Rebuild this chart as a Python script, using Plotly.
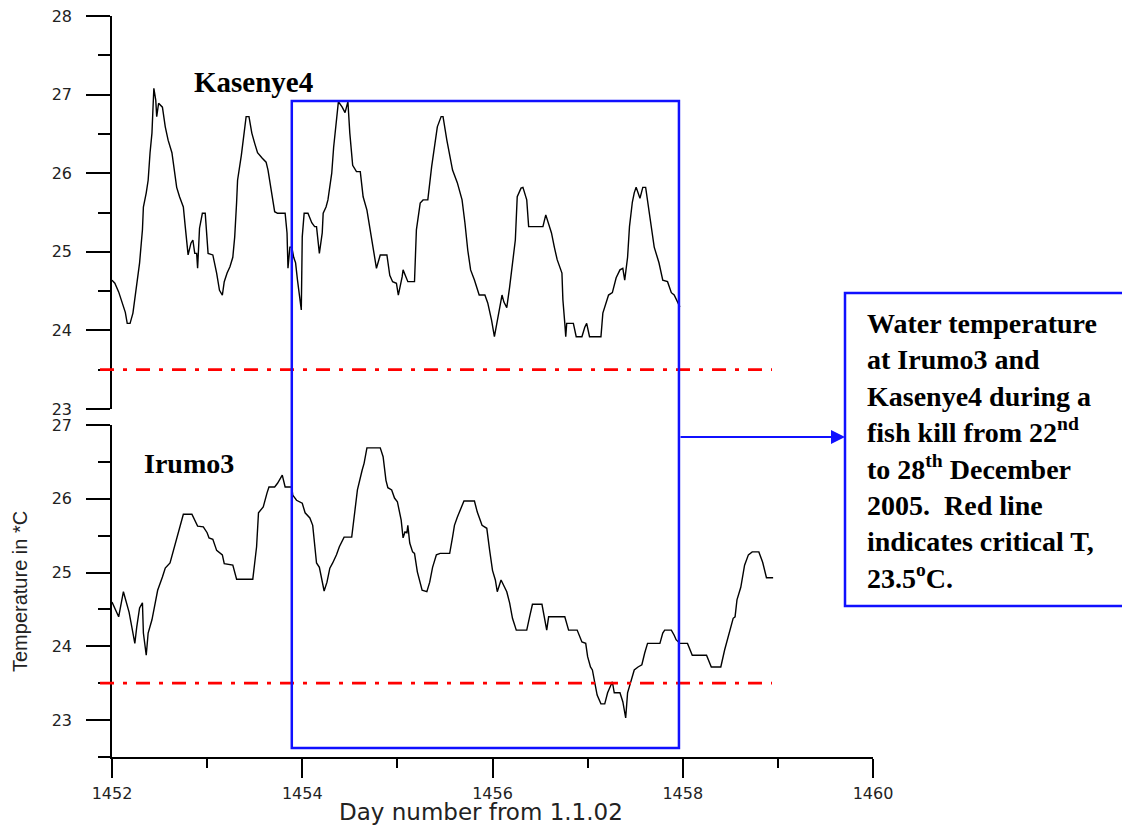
import plotly.graph_objects as go

# ---- data ----
kas_day = [1452.00, 1452.03, 1452.07, 1452.14, 1452.16, 1452.19, 1452.22, 1452.26, 1452.29, 1452.32,
           1452.33, 1452.36, 1452.38, 1452.40, 1452.42, 1452.43, 1452.44, 1452.46, 1452.47, 1452.49,
           1452.53, 1452.56, 1452.59, 1452.63, 1452.65, 1452.68, 1452.71, 1452.75, 1452.77, 1452.79,
           1452.80, 1452.83, 1452.85, 1452.87, 1452.89, 1452.90, 1452.92, 1452.95, 1452.98, 1453.01,
           1453.06, 1453.10, 1453.13, 1453.16, 1453.18, 1453.21, 1453.24, 1453.27, 1453.29, 1453.31,
           1453.32, 1453.36, 1453.38, 1453.41, 1453.44, 1453.47, 1453.50, 1453.53, 1453.58, 1453.62,
           1453.64, 1453.67, 1453.69, 1453.71, 1453.74, 1453.82, 1453.84, 1453.85, 1453.87, 1453.89,
           1453.91, 1453.93, 1453.95, 1453.97, 1453.99, 1454.00, 1454.02, 1454.06, 1454.10, 1454.13,
           1454.15, 1454.18, 1454.21, 1454.22, 1454.25, 1454.27, 1454.29, 1454.31, 1454.33, 1454.36,
           1454.38, 1454.42, 1454.45, 1454.48, 1454.50, 1454.53, 1454.57, 1454.61, 1454.64, 1454.68,
           1454.71, 1454.74, 1454.78, 1454.82, 1454.89, 1454.92, 1454.95, 1454.99, 1455.01, 1455.05,
           1455.06, 1455.11, 1455.18, 1455.20, 1455.24, 1455.27, 1455.32, 1455.36, 1455.39, 1455.42,
           1455.46, 1455.48, 1455.52, 1455.55, 1455.58, 1455.63, 1455.68, 1455.71, 1455.74, 1455.77,
           1455.81, 1455.86, 1455.92, 1455.95, 1455.99, 1456.02, 1456.05, 1456.10, 1456.12, 1456.15,
           1456.18, 1456.21, 1456.24, 1456.26, 1456.30, 1456.32, 1456.36, 1456.38, 1456.42, 1456.53,
           1456.56, 1456.58, 1456.62, 1456.65, 1456.68, 1456.73, 1456.74, 1456.76, 1456.77, 1456.78,
           1456.81, 1456.85, 1456.88, 1456.94, 1456.97, 1456.99, 1457.02, 1457.14, 1457.16, 1457.19,
           1457.22, 1457.26, 1457.30, 1457.34, 1457.37, 1457.39, 1457.42, 1457.44, 1457.47, 1457.49,
           1457.51, 1457.55, 1457.58, 1457.61, 1457.63, 1457.67, 1457.70, 1457.75, 1457.79, 1457.84,
           1457.88, 1457.91, 1457.95, 1457.97]
kas_temp = [24.64, 24.60, 24.49, 24.23, 24.09, 24.09, 24.22, 24.55, 24.86, 25.28,
            25.57, 25.75, 25.91, 26.26, 26.51, 26.80, 27.08, 26.93, 26.72, 26.89,
            26.84, 26.59, 26.42, 26.26, 26.08, 25.82, 25.70, 25.57, 25.32, 25.11,
            24.96, 25.11, 25.15, 24.98, 24.98, 24.79, 25.30, 25.49, 25.49, 24.98,
            24.96, 24.73, 24.51, 24.45, 24.62, 24.73, 24.81, 24.93, 25.19, 25.63,
            25.91, 26.23, 26.42, 26.72, 26.72, 26.51, 26.38, 26.26, 26.19, 26.14,
            26.04, 25.82, 25.66, 25.51, 25.49, 25.49, 25.24, 24.79, 25.06, 25.06,
            24.93, 24.86, 24.64, 24.48, 24.26, 25.19, 25.49, 25.49, 25.37, 25.32,
            25.32, 24.98, 25.24, 25.49, 25.57, 25.66, 25.81, 26.00, 26.33, 26.68,
            26.91, 26.84, 26.77, 26.91, 26.51, 26.10, 26.02, 26.02, 25.70, 25.53,
            25.32, 25.09, 24.79, 24.96, 24.96, 24.70, 24.62, 24.60, 24.45, 24.68,
            24.77, 24.62, 24.62, 25.28, 25.62, 25.66, 25.66, 26.08, 26.33, 26.59,
            26.72, 26.72, 26.42, 26.21, 26.04, 25.88, 25.66, 25.37, 25.02, 24.77,
            24.64, 24.45, 24.45, 24.35, 24.13, 23.92, 24.13, 24.45, 24.36, 24.29,
            24.55, 24.86, 25.15, 25.70, 25.81, 25.82, 25.66, 25.32, 25.32, 25.32,
            25.47, 25.40, 25.24, 25.06, 24.90, 24.73, 24.39, 24.09, 23.92, 24.09,
            24.09, 24.09, 23.92, 23.92, 24.04, 24.09, 23.92, 23.92, 24.22, 24.35,
            24.45, 24.48, 24.67, 24.77, 24.79, 24.64, 24.93, 25.32, 25.63, 25.75,
            25.82, 25.68, 25.82, 25.82, 25.66, 25.32, 25.06, 24.86, 24.64, 24.62,
            24.48, 24.45, 24.36, 24.30]

iru_day = [1452.00, 1452.03, 1452.07, 1452.12, 1452.14, 1452.18, 1452.21, 1452.24, 1452.26, 1452.29,
           1452.32, 1452.33, 1452.36, 1452.38, 1452.42, 1452.45, 1452.48, 1452.53, 1452.56, 1452.61,
           1452.64, 1452.68, 1452.71, 1452.75, 1452.84, 1452.87, 1452.90, 1452.96, 1453.00, 1453.02,
           1453.06, 1453.10, 1453.16, 1453.18, 1453.27, 1453.31, 1453.40, 1453.48, 1453.50, 1453.52,
           1453.54, 1453.59, 1453.63, 1453.65, 1453.71, 1453.74, 1453.79, 1453.82, 1453.89, 1453.90,
           1453.94, 1454.00, 1454.03, 1454.08, 1454.11, 1454.13, 1454.15, 1454.18, 1454.23, 1454.26,
           1454.29, 1454.32, 1454.36, 1454.39, 1454.44, 1454.52, 1454.55, 1454.58, 1454.63, 1454.65,
           1454.68, 1454.82, 1454.85, 1454.88, 1454.90, 1454.94, 1454.97, 1455.00, 1455.04, 1455.06,
           1455.08, 1455.10, 1455.11, 1455.13, 1455.16, 1455.18, 1455.21, 1455.26, 1455.31, 1455.34,
           1455.37, 1455.41, 1455.45, 1455.55, 1455.58, 1455.60, 1455.63, 1455.68, 1455.70, 1455.81,
           1455.84, 1455.89, 1455.94, 1455.97, 1456.00, 1456.03, 1456.05, 1456.09, 1456.12, 1456.15,
           1456.18, 1456.21, 1456.25, 1456.36, 1456.39, 1456.42, 1456.52, 1456.55, 1456.57, 1456.59,
           1456.76, 1456.80, 1456.89, 1456.94, 1456.98, 1457.00, 1457.03, 1457.05, 1457.08, 1457.10,
           1457.14, 1457.18, 1457.21, 1457.26, 1457.28, 1457.34, 1457.37, 1457.40, 1457.42, 1457.46,
           1457.49, 1457.53, 1457.57, 1457.60, 1457.63, 1457.76, 1457.79, 1457.81, 1457.88, 1457.91,
           1457.93, 1457.97, 1458.05, 1458.10, 1458.25, 1458.30, 1458.40, 1458.44, 1458.49, 1458.53,
           1458.55, 1458.57, 1458.61, 1458.65, 1458.69, 1458.73, 1458.80, 1458.84, 1458.88, 1458.95]
iru_temp = [24.60, 24.52, 24.40, 24.74, 24.65, 24.46, 24.25, 24.04, 24.26, 24.52,
            24.59, 24.18, 23.88, 24.18, 24.36, 24.59, 24.76, 24.94, 25.06, 25.13,
            25.28, 25.44, 25.62, 25.79, 25.79, 25.71, 25.63, 25.62, 25.54, 25.47,
            25.45, 25.30, 25.24, 25.12, 25.10, 24.91, 24.91, 24.91, 25.13, 25.35,
            25.81, 25.89, 26.08, 26.16, 26.16, 26.21, 26.32, 26.16, 26.16, 26.05,
            25.98, 25.94, 25.81, 25.74, 25.64, 25.35, 25.13, 25.07, 24.75, 24.87,
            25.06, 25.13, 25.24, 25.35, 25.48, 25.48, 25.81, 26.12, 26.39, 26.48,
            26.69, 26.69, 26.57, 26.25, 26.15, 26.12, 26.01, 25.96, 25.71, 25.47,
            25.55, 25.54, 25.64, 25.40, 25.28, 25.26, 25.01, 24.76, 24.74, 24.87,
            25.07, 25.24, 25.26, 25.26, 25.48, 25.64, 25.75, 25.91, 25.97, 25.97,
            25.82, 25.64, 25.60, 25.30, 25.03, 24.90, 24.74, 24.90, 24.83, 24.74,
            24.59, 24.38, 24.22, 24.22, 24.40, 24.57, 24.57, 24.36, 24.22, 24.40,
            24.40, 24.22, 24.22, 24.06, 24.04, 23.86, 23.72, 23.68, 23.50, 23.34,
            23.22, 23.22, 23.37, 23.52, 23.37, 23.37, 23.25, 23.03, 23.37, 23.54,
            23.68, 23.72, 23.75, 23.91, 24.04, 24.04, 24.18, 24.22, 24.22, 24.15,
            24.09, 24.04, 24.04, 23.88, 23.88, 23.72, 23.72, 23.95, 24.18, 24.38,
            24.40, 24.63, 24.80, 25.10, 25.24, 25.28, 25.28, 25.14, 24.93, 24.93]

critical_temp = 23.5
kill_start, kill_end = 1453.89, 1457.96
x_ticks = [1452, 1454, 1456, 1458, 1460]
top_ticks = [23, 24, 25, 26, 27, 28]
bottom_ticks = [23, 24, 25, 26, 27]

site_top = "Kasenye4"
site_bottom = "Irumo3"
note_lines = ["Water temperature", "at Irumo3 and", "Kasenye4 during a",
              "fish kill from 22<sup>nd</sup>", "to 28<sup>th</sup> December",
              "2005.  Red line", "indicates critical T,", "23.5<sup>o</sup>C."]

# ---- figure ----
# the page body has an 8px default margin, so the figure is made 8px smaller
OFF = 8
W, H = 1130 - OFF, 826 - OFF
L, R, T, B = 112 - OFF, 257, 16 - OFF, 69
PW, PH = W - L - R, H - T - B


def px_x(p):  # window pixel -> paper x
    return (p - OFF - L) / PW


def px_y(p):  # window pixel -> paper y
    return (H - B - (p - OFF)) / PH


BLUE = "#1010ff"
tickfont = dict(family="DejaVu Sans", size=16, color="#222222")

fig = go.Figure()
fig.add_trace(go.Scatter(x=kas_day, y=kas_temp, mode="lines", xaxis="x", yaxis="y",
                         line=dict(color="black", width=1.4), showlegend=False))
fig.add_trace(go.Scatter(x=iru_day, y=iru_temp, mode="lines", xaxis="x", yaxis="y2",
                         line=dict(color="black", width=1.4), showlegend=False))

axis_common = dict(showgrid=False, zeroline=False, showline=True, linecolor="black",
                   linewidth=1.5, ticks="outside", tickcolor="black", tickwidth=1.5,
                   tickfont=tickfont, automargin=False, ticklabeloverflow="allow")

fig.update_layout(
    width=W, height=H, autosize=False,
    margin=dict(l=L, r=R, t=T, b=B, pad=0),
    paper_bgcolor="white", plot_bgcolor="white",
    xaxis=dict(domain=[0, 1], anchor="y2", range=[1452, 1460], tickvals=x_ticks,
               ticklen=19, ticklabelstandoff=2,
               minor=dict(dtick=1, tick0=1452, ticklen=9, tickcolor="black", tickwidth=1.5, ticks="outside"),
               **axis_common),
    yaxis=dict(domain=[px_y(409), 1], anchor="x", range=[23, 28], tickvals=top_ticks,
               ticklen=24, ticklabelstandoff=11,
               minor=dict(dtick=0.5, tick0=23, ticklen=12, tickcolor="black", tickwidth=1.5, ticks="outside"),
               **axis_common),
    yaxis2=dict(domain=[0, px_y(425)], anchor="x", range=[22.5, 27], tickvals=bottom_ticks,
                ticklen=24, ticklabelstandoff=11,
                minor=dict(dtick=0.5, tick0=22.5, ticklen=12, tickcolor="black", tickwidth=1.5, ticks="outside"),
                **axis_common),
)

shapes = []
# critical temperature lines (dash-dot red)
for yr in ["y", "y2"]:
    shapes.append(dict(type="line", xref="paper", yref=yr, x0=px_x(100), x1=px_x(772),
                       y0=critical_temp, y1=critical_temp,
                       line=dict(color="#ff0000", width=2.8, dash="14px,9px,4px,9px")))
# fish-kill box
shapes.append(dict(type="rect", xref="x", yref="paper", x0=kill_start, x1=kill_end,
                   y0=px_y(748), y1=px_y(101), line=dict(color=BLUE, width=2.5)))
# callout box
shapes.append(dict(type="rect", xref="paper", yref="paper", x0=px_x(845), x1=px_x(1128),
                   y0=px_y(606), y1=px_y(293), line=dict(color=BLUE, width=2.5)))
# x axis line stub to the left of the y axis
shapes.append(dict(type="line", xref="paper", yref="paper", x0=px_x(100), x1=0, y0=0, y1=0,
                   line=dict(color="black", width=1.5)))
fig.update_layout(shapes=shapes)

annotations = [
    dict(xref="paper", yref="paper", x=px_x(845), y=px_y(437), ax=-(845 - 679), ay=0,
         text="", showarrow=True, arrowhead=2, arrowsize=1.4, arrowwidth=2,
         arrowcolor=BLUE, standoff=0),
    dict(xref="paper", yref="paper", x=px_x(865), y=px_y(306), xanchor="left", yanchor="top",
         align="left", showarrow=False, text="<b>" + "<br>".join(note_lines) + "</b>",
         font=dict(family="Liberation Serif", size=28, color="black")),
    dict(xref="paper", yref="paper", x=px_x(192), y=px_y(82), xanchor="left", yanchor="middle",
         showarrow=False, text="<b>" + site_top + "</b>",
         font=dict(family="Liberation Serif", size=29, color="black")),
    dict(xref="paper", yref="paper", x=px_x(142), y=px_y(464), xanchor="left", yanchor="middle",
         showarrow=False, text="<b>" + site_bottom + "</b>",
         font=dict(family="Liberation Serif", size=28, color="black")),
    dict(xref="paper", yref="paper", x=px_x(20), y=px_y(592), textangle=-90,
         xanchor="center", yanchor="middle", showarrow=False, text="Temperature in *C",
         font=dict(family="Liberation Sans", size=20, color="#222222")),
    dict(xref="paper", yref="paper", x=px_x(481), y=px_y(812), xanchor="center", yanchor="middle",
         showarrow=False, text="Day number from 1.1.02",
         font=dict(family="DejaVu Sans", size=23, color="#222222")),
]
fig.update_layout(annotations=annotations)

fig.write_html("out.html")
